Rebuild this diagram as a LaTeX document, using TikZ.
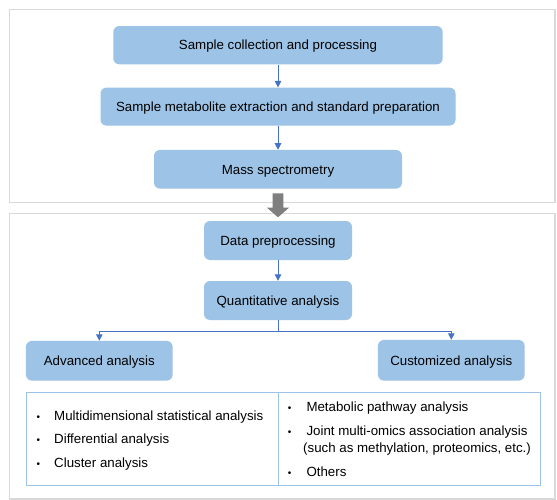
\documentclass[tikz,border=0pt]{standalone}
\usepackage{fontspec}
\setmainfont{Liberation Sans}
\usetikzlibrary{arrows.meta}
\definecolor{boxblue}{HTML}{9DC3E6}
\definecolor{linkblue}{HTML}{4472C4}
\definecolor{framegray}{HTML}{D9D9D9}
\definecolor{bigarrow}{HTML}{7F7F7F}
\begin{document}
\begin{tikzpicture}[x=1pt,y=-1pt,
  every node/.style={font=\fontsize{13.3pt}{16.6pt}\selectfont},
  stage/.style={fill=boxblue, rounded corners=6pt, inner sep=0pt,
    text height=9.5pt, text depth=0pt, align=center},
  link/.style={draw=linkblue, line width=1pt, -{Triangle[width=6.5pt,length=6.5pt]}},
  frame/.style={draw=framegray, line width=1.3pt},
  listbox/.style={draw=boxblue, line width=1.4pt},
  item/.style={anchor=base west, inner sep=0pt},
  bullet/.style={anchor=base, inner sep=0pt, font=\fontsize{10pt}{12pt}\selectfont}
]
\useasboundingbox (0,0) rectangle (557,500);
\fill[white] (0,0) rectangle (557,500);
% outer frames
\draw[frame] (9.3,9.3) rectangle (555,202.3);
\draw[frame] (9.3,213.3) rectangle (555,499);

% top stages
\node[stage, minimum width=329.4pt, minimum height=38.3pt] (n1) at (278,45.2) {Sample collection and processing};
\node[stage, minimum width=355pt, minimum height=38pt] (n2) at (278,106.6) {Sample metabolite extraction and standard preparation};
\node[stage, minimum width=248pt, minimum height=38.7pt] (n3) at (278,169.3) {Mass spectrometry};

\draw[link] (n1) -- (n2);
\draw[link] (n2) -- (n3);

% big gray arrow
\fill[bigarrow] (272.7,193.3) -- (283.3,193.3) -- (283.3,207.7) -- (289,207.7)
  -- (278,217.3) -- (267,207.7) -- (272.7,207.7) -- cycle;

% lower stages
\node[stage, minimum width=148pt, minimum height=39pt] (n4) at (278,240.5) {Data preprocessing};
\node[stage, minimum width=148pt, minimum height=39pt] (n5) at (278,300.5) {Quantitative analysis};
\draw[link] (n4) -- (n5);

\node[stage, minimum width=146.7pt, minimum height=39.7pt] (adv) at (99.3,360.8) {Advanced analysis};
\node[stage, minimum width=146.7pt, minimum height=40.7pt] (cust) at (451.3,360.3) {Customized analysis};

\coordinate (br) at (278,331);
\draw[draw=linkblue, line width=1pt] (n5.south) -- (br);
\draw[link] (br) -| (adv.north);
\draw[link] (br) -| (cust.north);

% list box
\draw[listbox] (26.7,392.3) rectangle (540.3,485.7);
\draw[listbox] (278.3,392.3) -- (278.3,485.7);

% left list
\node[bullet] (lb1) at (38.3,420.2) {•};
\node[item] (l1) at (54,420.2) {Multidimensional statistical analysis};
\node[bullet] (lb2) at (38.3,443.8) {•};
\node[item] (l2) at (54,443.8) {Differential analysis};
\node[bullet] (lb3) at (38.3,467.8) {•};
\node[item] (l3) at (54,467.8) {Cluster analysis};

% right list
\node[bullet] (rb1) at (289.7,411.8) {•};
\node[item] (r1) at (306.3,411.8) {Metabolic pathway analysis};
\node[bullet] (rb2) at (289.7,435.5) {•};
\node[item] (r2) at (306.3,435.5) {Joint multi-omics association analysis};
\node[item] (r2b) at (303,452.2) {(such as methylation, proteomics, etc.)};
\node[bullet] (rb3) at (289.7,476.2) {•};
\node[item] (r3) at (306.3,476.2) {Others};
\end{tikzpicture}
\end{document}
